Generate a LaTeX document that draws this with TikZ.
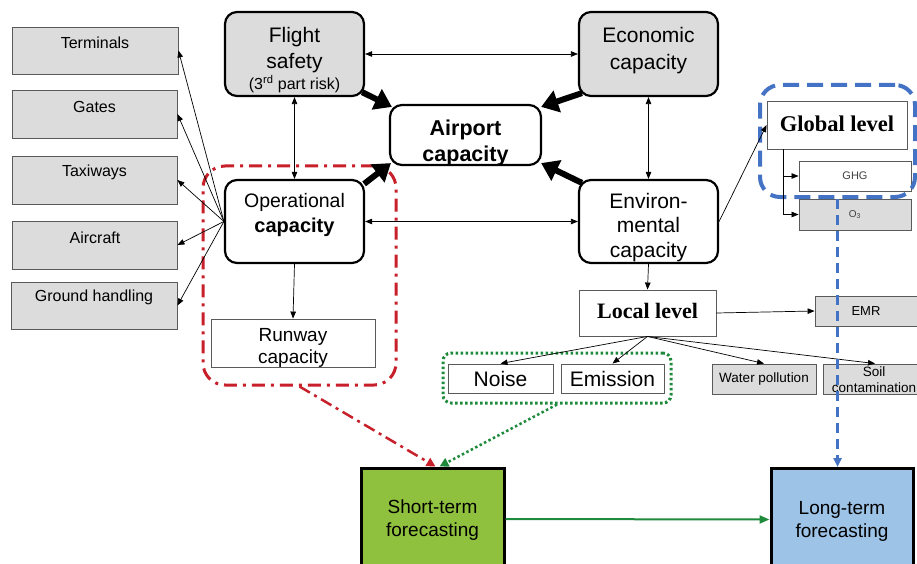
\documentclass[tikz,border=0pt]{standalone}
\usepackage{fontspec}
\setmainfont{Liberation Sans}
\newfontfamily\tmsfont{Liberation Serif}
\usetikzlibrary{arrows.meta,calc}
\definecolor{boxgray}{HTML}{DCDCDC}
\definecolor{redd}{HTML}{C8202A}
\definecolor{grn}{HTML}{1E8B3C}
\definecolor{blu}{HTML}{4472C4}
\definecolor{stfill}{HTML}{8FC13E}
\definecolor{ltfill}{HTML}{9DC3E6}
\definecolor{edgegray}{HTML}{5A5A5A}
\newcommand\fz[2]{\fontsize{#1}{#2}\selectfont}
\begin{document}
\begin{tikzpicture}[x=1pt,y=-1pt,
  rbox/.style={draw=black, line width=2.2pt, rounded corners=12pt, inner sep=0pt},
  gbox/.style={draw=edgegray, line width=0.9pt, fill=boxgray, inner sep=0pt},
  wbox/.style={draw=edgegray, line width=0.9pt, fill=white, inner sep=0pt},
  fbox/.style={draw=black, line width=3pt, inner sep=0pt},
  txt/.style={align=center, inner sep=0pt},
  thinarr/.style={line width=0.7pt, -{Triangle[length=7pt,width=5.5pt]}},
  botharr/.style={line width=0.7pt, {Triangle[length=7pt,width=5.5pt]}-{Triangle[length=7pt,width=5.5pt]}},
  fatarr/.style={line width=6pt, -{Triangle[length=17pt,width=22pt]}},
]
\useasboundingbox (0,0) rectangle (917,564);

% left boxes
\node[gbox, minimum width=166pt, minimum height=47pt] (term) at (95,50.5) {};
\node[gbox, minimum width=165pt, minimum height=48pt] (gate) at (94.5,114) {};
\node[gbox, minimum width=165pt, minimum height=48pt] (taxi) at (94.5,180) {};
\node[gbox, minimum width=165pt, minimum height=48pt] (airc) at (94.5,245) {};
\node[gbox, minimum width=166pt, minimum height=47pt] (grnd) at (94,305.5) {};
\node[txt, font=\fz{16}{19}] (term-t) at (95,42.5) {Terminals};
\node[txt, font=\fz{16}{19}] (gate-t) at (94.5,106.5) {Gates};
\node[txt, font=\fz{16}{19}] (taxi-t) at (94.5,172.5) {Taxiways};
\node[txt, font=\fz{16}{19}] (airc-t) at (95,237.5) {Aircraft};
\node[txt, font=\fz{16}{19}] (grnd-t) at (94,297.5) {Ground handling};

% main rounded boxes
\node[rbox, fill=boxgray, minimum width=139pt, minimum height=84pt] (fs) at (294.5,54) {};
\node[rbox, fill=boxgray, minimum width=139pt, minimum height=84pt] (ec) at (648.5,54) {};
\node[rbox, fill=white, minimum width=151pt, minimum height=60pt] (ap) at (465.5,135) {};
\node[rbox, fill=white, minimum width=139pt, minimum height=83pt] (op) at (294.5,221.5) {};
\node[rbox, fill=white, minimum width=139pt, minimum height=83pt] (en) at (648.5,221.5) {};
\node[wbox, minimum width=164pt, minimum height=48pt] (rw) at (293,343) {};

\node[txt, font=\fz{21}{26}] (fs-t1) at (294.5,50) {Flight\\safety};
\node[txt, font=\fz{16}{19}] (fs-t2) at (294.5,84) {(3\textsuperscript{rd} part risk)};
\node[txt, font=\fz{21}{27}] (ec-t) at (648.5,51) {Economic\\capacity};
\node[txt, font=\bfseries\fz{21.5}{26}] (ap-t) at (465.5,143) {Airport\\capacity};
\node[txt, font=\fz{19.5}{25}] (op-t1) at (294.5,202) {Operational};
\node[txt, font=\bfseries\fz{20}{25}] (op-t2) at (294.5,227) {capacity};
\node[txt, font=\fz{21}{24.5}] (en-t) at (648.5,227.5) {Environ-\\mental\\capacity};
\node[txt, font=\fz{19}{22}] (rw-t) at (293,348) {Runway\\capacity};

% environmental levels
\node[wbox, minimum width=137pt, minimum height=46pt, font=\tmsfont\bfseries\fz{22}{26}] (ll) at (647.5,313) {\raisebox{5pt}{Local level}};
\node[wbox, minimum width=140pt, minimum height=48pt, font=\tmsfont\bfseries\fz{22.5}{26}] (gl) at (837,125) {\raisebox{3pt}{Global level}};
\node[wbox, minimum width=112pt, minimum height=30pt, font=\fz{11}{13}, text=black!75] (ghg) at (855,176) {GHG};
\node[gbox, minimum width=112pt, minimum height=31pt, font=\fz{10}{12}, text=black!75] (o3) at (855,214.5) {O\textsubscript{3}};
\node[gbox, minimum width=104pt, minimum height=30pt] (emr) at (867,311) {};
\node[txt, font=\fz{13}{16}] (emr-t) at (866,311) {EMR};

\node[wbox, minimum width=105pt, minimum height=29pt, font=\fz{21}{25}] (noise) at (500.5,378.5) {Noise};
\node[wbox, minimum width=103pt, minimum height=29pt, font=\fz{21}{25}] (emis) at (612.5,378.5) {Emission};
\node[gbox, minimum width=104pt, minimum height=30pt, font=\fz{13.5}{16}] (water) at (764,379) {Water pollution};
\node[gbox, minimum width=104pt, minimum height=30pt] (soil) at (875,379) {};
\node[txt, font=\fz{13.5}{16}] (soil-t) at (874,380) {Soil\\contamination};

% forecasting
\node[fbox, fill=stfill, minimum width=143pt, minimum height=102pt] (st) at (432.5,519) {};
\node[fbox, fill=ltfill, minimum width=142pt, minimum height=102pt] (lt) at (842,519.5) {};
\node[txt, font=\fz{19}{23}] (st-t) at (432.5,520) {Short-term\\forecasting};
\node[txt, font=\fz{19}{23}] (lt-t) at (842,521.5) {Long-term\\forecasting};

% frames
\node[draw=redd, line width=3pt, dash pattern=on 13pt off 6pt on 3pt off 6pt, rounded corners=22pt, minimum width=193pt, minimum height=219pt, inner sep=0pt] (redf) at (299.5,275.5) {};
\node[draw=grn, line width=3pt, dash pattern=on 2.5pt off 2.5pt, rounded corners=8pt, minimum width=228pt, minimum height=50pt, inner sep=0pt] (grnf) at (557,378) {};
\node[draw=blu, line width=4pt, dash pattern=on 16pt off 8pt, rounded corners=20pt, minimum width=155pt, minimum height=112pt, inner sep=0pt] (bluf) at (837.5,141) {};

% thin connectors
\draw[botharr] (fs.east) -- (ec.west);
\draw[botharr] (fs.south) -- (op.north);
\draw[botharr] (ec.south) -- (en.north);
\draw[botharr] (op.east) -- (en.west);
\draw[thinarr] (op.south) -- (rw.north);
\foreach \t in {term,gate,taxi,airc,grnd} \draw[thinarr] (op.west) -- (\t.east);
\draw[thinarr] (en.south) -- (ll.north);
\draw[thinarr] (en.east) -- (gl.west);
\draw[thinarr] (ll.east) -- (emr.west);
\foreach \t in {noise,emis,water,soil} \draw[thinarr] (ll.south) -- (\t.north);
\draw[thinarr] ($(gl.south west)+(17,0)$) |- (ghg.west);
\draw[thinarr] ($(gl.south west)+(17,0)$) |- (o3.west);

% thick arrows
\draw[fatarr] ($(fs.south east)+(-3,-5)$) -- ($(ap.north west)+(3,3)$);
\draw[fatarr] ($(ec.south west)+(4,-4)$) -- ($(ap.north east)+(-1,3)$);
\draw[fatarr] ($(op.north east)+(-1,5)$) -- ($(ap.south west)+(2,-3)$);
\draw[fatarr] ($(en.north west)+(4,4)$) -- ($(ap.south east)+(-1,-3)$);

% forecasting arrows
\draw[redd, line width=2.5pt, dash pattern=on 12pt off 5pt on 3pt off 5pt, -{Triangle[length=9pt,width=9pt]}] (redf.south) -- ($(st.north)+(3,0)$);
\draw[grn, line width=2.5pt, dash pattern=on 2.5pt off 2.5pt, -{Triangle[length=9pt,width=9pt]}] (grnf.south) -- ($(st.north)+(7,0)$);
\draw[blu, line width=2.5pt, dash pattern=on 10pt off 6pt, -{Triangle[length=9pt,width=8pt]}] (bluf.south) -- (bluf.south |- lt.north);
\draw[grn, line width=2pt, -{Triangle[length=10pt,width=8pt]}] (st.east) -- (lt.west);
\end{tikzpicture}
\end{document}
